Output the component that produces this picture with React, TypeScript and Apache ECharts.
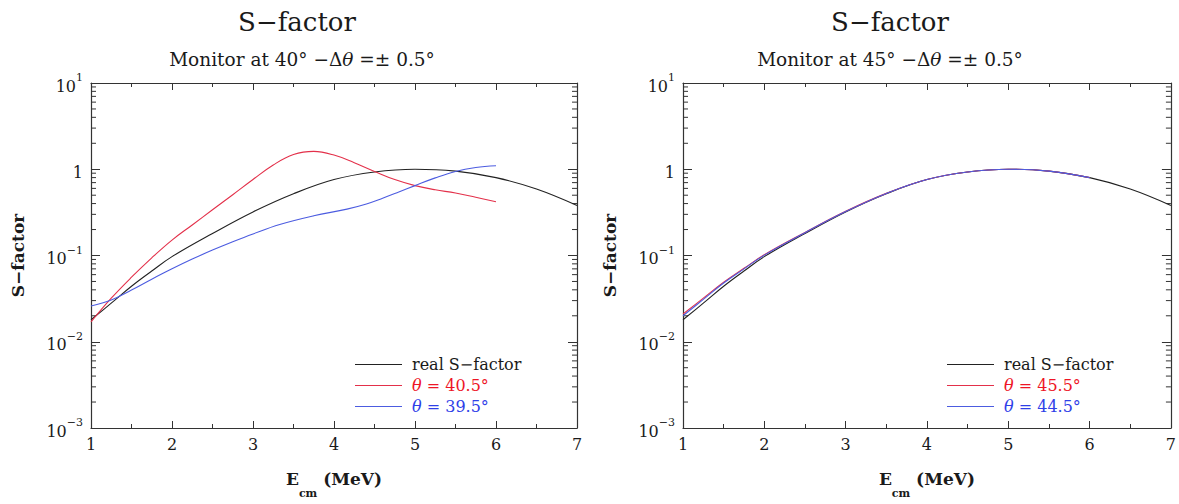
import React, { useEffect, useRef } from "react";
import * as echarts from "echarts";

// ---------- data ----------
const yMinorTicks = [
  0.002, 0.003, 0.004, 0.005, 0.006, 0.007, 0.008, 0.009,
  0.02, 0.03, 0.04, 0.05, 0.06, 0.07, 0.08, 0.09,
  0.2, 0.3, 0.4, 0.5, 0.6, 0.7, 0.8, 0.9,
  2, 3, 4, 5, 6, 7, 8, 9,
];

// real S-factor (both panels)
const xReal = [1, 1.25, 1.5, 1.75, 2, 2.5, 3, 3.5, 4, 4.5, 5, 5.5, 6, 6.5, 7];
const sReal = [0.018, 0.028, 0.044, 0.066, 0.097, 0.18, 0.32, 0.52, 0.76, 0.93, 1.0, 0.95, 0.8, 0.59, 0.38];

// left panel: monitor at 40 deg
const x405 = [1, 1.25, 1.5, 1.75, 2, 2.25, 2.5, 2.75, 3, 3.25, 3.5, 3.75, 4, 4.25, 4.5, 4.75, 5, 5.25, 5.5, 5.75, 6];
const s405 = [0.017, 0.032, 0.056, 0.094, 0.151, 0.226, 0.339, 0.507, 0.76, 1.12, 1.48, 1.61, 1.46, 1.19, 0.944, 0.759, 0.646, 0.578, 0.531, 0.473, 0.42];
const x395 = [1, 1.25, 1.5, 1.75, 2, 2.25, 2.5, 2.75, 3, 3.33, 3.75, 4.16, 4.4, 4.6, 4.8, 5, 5.25, 5.5, 5.75, 6];
const s395 = [0.026, 0.0305, 0.0398, 0.0531, 0.07, 0.0908, 0.1156, 0.1445, 0.178, 0.2286, 0.2884, 0.3451, 0.3963, 0.4613, 0.5445, 0.6457, 0.794, 0.944, 1.047, 1.096];

// right panel: monitor at 45 deg
const x455 = [1, 1.25, 1.5, 1.75, 2, 2.5, 3, 3.5, 4, 4.5, 5, 5.5, 6];
const s455 = [0.021, 0.032, 0.049, 0.071, 0.102, 0.185, 0.325, 0.525, 0.76, 0.93, 1.0, 0.95, 0.8];
const x445 = [1, 1.25, 1.5, 1.75, 2, 2.5, 3, 3.5, 4, 4.5, 5, 5.5, 6];
const s445 = [0.02, 0.031, 0.048, 0.07, 0.101, 0.184, 0.323, 0.524, 0.76, 0.93, 1.0, 0.95, 0.8];

const nameReal = "real S−factor";
const leftNames = ["θ = 40.5°", "θ = 39.5°"];
const rightNames = ["θ = 45.5°", "θ = 44.5°"];

// ---------- styles ----------
const SERIF = '"DejaVu Serif", "Liberation Serif", serif';
const INK = "#1a1a1a";
const FRAME = "#333";
const RED_LINE = "#e3304a";
const BLUE_LINE = "#4c5ce0";
const RED_TEXT = "#ee1526";
const BLUE_TEXT = "#2f40e8";
const BLACK_LINE = "#222";

const pairs = (xs: number[], ys: number[]) => xs.map((x, i) => [x, ys[i]]);

const supFmt = (v: number) => {
  const e = Math.round(Math.log10(v));
  if (e === 0) return "{b|1}";
  return "{b|10}{sup|" + (e < 0 ? "−" + -e : String(e)) + "}";
};

const tickRich = {
  b: { fontFamily: SERIF, fontSize: 16, color: INK, lineHeight: 22, verticalAlign: "bottom" },
  sup: { fontFamily: SERIF, fontSize: 11, color: INK, lineHeight: 22, verticalAlign: "top" },
};

const nameRich = {
  e: { fontFamily: SERIF, fontSize: 17, fontWeight: "bold", color: INK, lineHeight: 20, verticalAlign: "top" },
  s: { fontFamily: SERIF, fontSize: 11, fontWeight: "bold", color: INK, lineHeight: 29, verticalAlign: "bottom" },
};

function makeXAxes(g: number) {
  const common = {
    type: "value",
    gridIndex: g,
    min: 1,
    max: 7,
    interval: 1,
    axisLine: { show: true, onZero: false, lineStyle: { color: FRAME, width: 1.2 } },
    axisTick: { show: true, inside: true, length: 7, lineStyle: { color: FRAME, width: 1 } },
    minorTick: { show: true, splitNumber: 2, length: 4, lineStyle: { color: FRAME, width: 1 } },
    splitLine: { show: false },
    minorSplitLine: { show: false },
  };
  return [
    {
      ...common,
      position: "bottom",
      axisLabel: { fontFamily: SERIF, fontSize: 16, color: INK, margin: 8 },
      name: "{e|E}{s|cm}{e| (MeV)}",
      nameLocation: "middle",
      nameGap: 42,
      nameTextStyle: { rich: nameRich },
    },
    { ...common, position: "top", axisLabel: { show: false } },
  ];
}

function makeYAxes(g: number) {
  const common = {
    type: "log",
    logBase: 10,
    gridIndex: g,
    min: 0.001,
    max: 10,
    splitNumber: 4,
    axisLine: { show: true, onZero: false, lineStyle: { color: FRAME, width: 1.2 } },
    axisTick: { show: true, inside: true, length: 9, lineStyle: { color: FRAME, width: 1 } },
    splitLine: { show: false },
  };
  return [
    {
      ...common,
      position: "left",
      axisLabel: { formatter: supFmt, rich: tickRich, margin: 8 },
      name: "S−factor",
      nameLocation: "middle",
      nameGap: 65,
      nameTextStyle: { fontFamily: SERIF, fontSize: 17, fontWeight: "bold", color: INK },
    },
    { ...common, position: "right", axisLabel: { show: false } },
  ];
}

function minorTickSeries(g: number) {
  return {
    type: "custom",
    name: "minor" + g,
    xAxisIndex: g * 2,
    yAxisIndex: g * 2,
    silent: true,
    clip: false,
    z: 3,
    encode: { x: 0, y: 1 },
    data: yMinorTicks.map((v) => [1, v]),
    renderItem: (_p: any, api: any) => {
      const v = api.value(1);
      const a = api.coord([1, v]);
      const b = api.coord([7, v]);
      const st = { stroke: FRAME, lineWidth: 1 };
      return {
        type: "group",
        children: [
          { type: "line", shape: { x1: a[0], y1: a[1], x2: a[0] + 5, y2: a[1] }, style: st },
          { type: "line", shape: { x1: b[0] - 5, y1: b[1], x2: b[0], y2: b[1] }, style: st },
        ],
      };
    },
  };
}

function lineSeries(name: string, g: number, xs: number[], ys: number[], color: string) {
  return {
    type: "line",
    name,
    xAxisIndex: g * 2,
    yAxisIndex: g * 2,
    data: pairs(xs, ys),
    showSymbol: false,
    smooth: 0.4,
    lineStyle: { color, width: 1.1 },
    itemStyle: { color },
    z: 4,
  };
}

const legendFormatter = (name: string) =>
  name.indexOf("θ") === 0 ? "{it|θ}" + name.slice(1) : name;

function makeLegend(left: number, names: string[]) {
  return {
    left,
    top: 356,
    padding: 0,
    orient: "vertical",
    icon: "rect",
    itemWidth: 47,
    itemHeight: 1,
    itemGap: 4,
    selectedMode: false,
    formatter: legendFormatter,
    textStyle: {
      fontFamily: SERIF,
      fontSize: 16,
      lineHeight: 17,
      padding: [0, 0, 0, 5],
      rich: { it: { fontFamily: SERIF, fontSize: 16, fontStyle: "italic" } },
    },
    data: [
      { name: nameReal, textStyle: { color: INK } },
      { name: names[0], textStyle: { color: RED_TEXT } },
      { name: names[1], textStyle: { color: BLUE_TEXT } },
    ],
  };
}

function titleGraphics(cx: number, sx: number, angle: string) {
  return [
    {
      type: "text",
      x: cx,
      y: 22,
      style: {
        text: "S−factor",
        fontFamily: SERIF,
        fontSize: 26,
        fill: INK,
        textAlign: "center",
        textVerticalAlign: "middle",
      },
    },
    {
      type: "text",
      x: sx,
      y: 59,
      style: {
        text: "Monitor at " + angle + "° −Δ{it|θ} =± 0.5°",
        fontFamily: SERIF,
        fontSize: 18.5,
        fill: INK,
        textAlign: "center",
        textVerticalAlign: "middle",
        rich: { it: { fontFamily: SERIF, fontSize: 18.5, fontStyle: "italic", fill: INK } },
      },
    },
  ];
}

export default function App() {
  const ref = useRef<HTMLDivElement>(null);

  useEffect(() => {
    if (!ref.current) return;
    const chart = echarts.init(ref.current, undefined, { renderer: "svg" });
    const option: any = {
      animation: false,
      backgroundColor: "#ffffff",
      textStyle: { fontFamily: SERIF },
      grid: [
        { left: 91, top: 83, width: 486, height: 354 },
        { left: 683, top: 83, width: 488, height: 354 },
      ],
      xAxis: [...makeXAxes(0), ...makeXAxes(1)],
      yAxis: [...makeYAxes(0), ...makeYAxes(1)],
      legend: [makeLegend(355, leftNames), makeLegend(947, rightNames)],
      graphic: [...titleGraphics(297, 302, "40"), ...titleGraphics(890, 890, "45")],
      series: [
        minorTickSeries(0),
        minorTickSeries(1),
        lineSeries(nameReal, 0, xReal, sReal, BLACK_LINE),
        lineSeries(leftNames[0], 0, x405, s405, RED_LINE),
        lineSeries(leftNames[1], 0, x395, s395, BLUE_LINE),
        lineSeries(nameReal, 1, xReal, sReal, BLACK_LINE),
        lineSeries(rightNames[0], 1, x455, s455, RED_LINE),
        lineSeries(rightNames[1], 1, x445, s445, BLUE_LINE),
      ],
    };
    chart.setOption(option);
    return () => chart.dispose();
  }, []);

  return (
    <div
      ref={ref}
      style={{ position: "fixed", left: 0, top: 0, width: 1179, height: 504, background: "#fff" }}
    />
  );
}
